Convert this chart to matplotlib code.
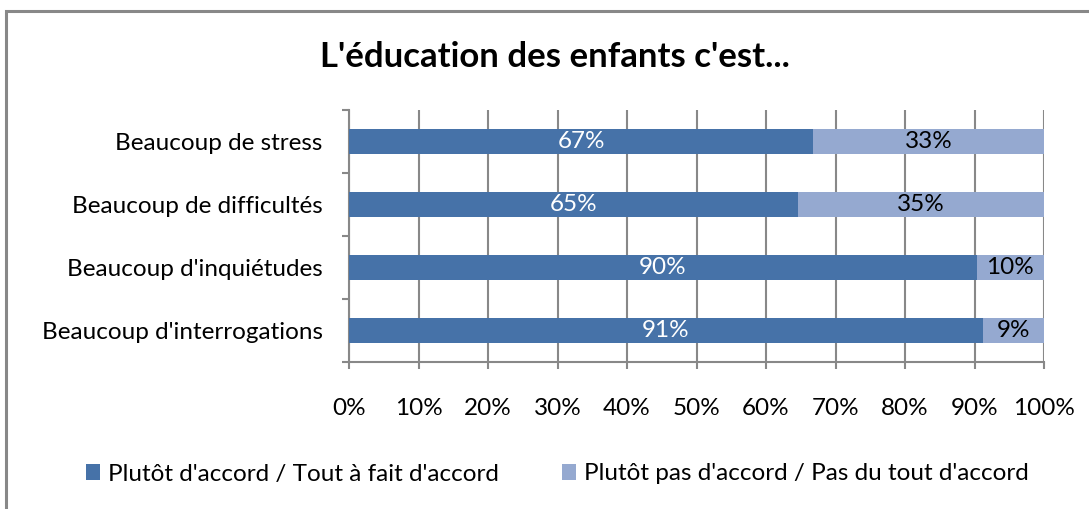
import numpy as np
import matplotlib
matplotlib.use('Agg')
import matplotlib.pyplot as plt
from matplotlib.patches import Rectangle
from matplotlib.ticker import FuncFormatter, MultipleLocator

plt.rcParams['font.family'] = ['Lato', 'DejaVu Sans']

categories = ["Beaucoup de stress", "Beaucoup de difficultés",
              "Beaucoup d'inquiétudes", "Beaucoup d'interrogations"]
accord = [66.8, 64.6, 90.3, 91.2]
pas_accord = [33.2, 35.4, 9.7, 8.8]
series_names = ["Plutôt d'accord / Tout à fait d'accord",
                "Plutôt pas d'accord / Pas du tout d'accord"]
dark = '#4672A8'
light = '#95A9D0'
grey = '#888888'
fs = 17.5

fig = plt.figure(figsize=(10.89, 5.09), dpi=100)
ax = fig.add_axes([349/1089, 1-362/509, 695/1089, 252/509])

# outer chart frame (only left/top edges visible in the picture)
fig.patches.append(Rectangle((6/1089, -0.1), 1.2, 1-11/509+0.1, transform=fig.transFigure,
                             fill=False, edgecolor=grey, linewidth=2.2, zorder=0))

y = np.arange(len(categories))[::-1]
b1 = ax.barh(y, accord, height=0.41, color=dark, zorder=3, label=series_names[0])
b2 = ax.barh(y, pas_accord, left=accord, height=0.41, color=light, zorder=3, label=series_names[1])

for yi, a, p in zip(y, accord, pas_accord):
    ax.text(a/2, yi, '%d%%' % round(a), ha='center', va='center', color='white', fontsize=fs, zorder=4)
    ax.text(a + p/2, yi, '%d%%' % round(p), ha='center', va='center', color='black', fontsize=fs, zorder=4)

ax.set_xlim(0, 100)
ax.set_ylim(-0.5, len(categories) - 0.5)
ax.xaxis.set_major_locator(MultipleLocator(10))
ax.xaxis.set_major_formatter(FuncFormatter(lambda v, pos: '%d%%' % v))
ax.set_yticks(y)
ax.set_yticklabels(categories)
ax.set_yticks(np.arange(-0.5, len(categories), 1.0), minor=True)
ax.tick_params(axis='y', which='major', length=0, pad=19, labelsize=fs)
ax.tick_params(axis='y', which='minor', length=5, color=grey, width=1.5)
ax.tick_params(axis='x', length=5, color=grey, width=1.5, pad=21, labelsize=fs)
ax.grid(axis='x', color=grey, linewidth=1.5, zorder=1)
for s in ['top', 'right']:
    ax.spines[s].set_visible(False)
for s in ['left', 'bottom']:
    ax.spines[s].set_color(grey)
    ax.spines[s].set_linewidth(1.5)

fig.text(555/1089, 1-57/509, "L'éducation des enfants c'est...", ha='center', va='center',
         fontsize=25, fontweight='bold')

fig.legend(handles=[b1, b2], loc='center', bbox_to_anchor=(557/1089, 1-474/509), ncol=2,
           frameon=False, fontsize=fs, handlelength=0.6, handleheight=0.6,
           handletextpad=0.3, columnspacing=2.6)

fig.savefig('out.png', dpi=100, facecolor='white')
